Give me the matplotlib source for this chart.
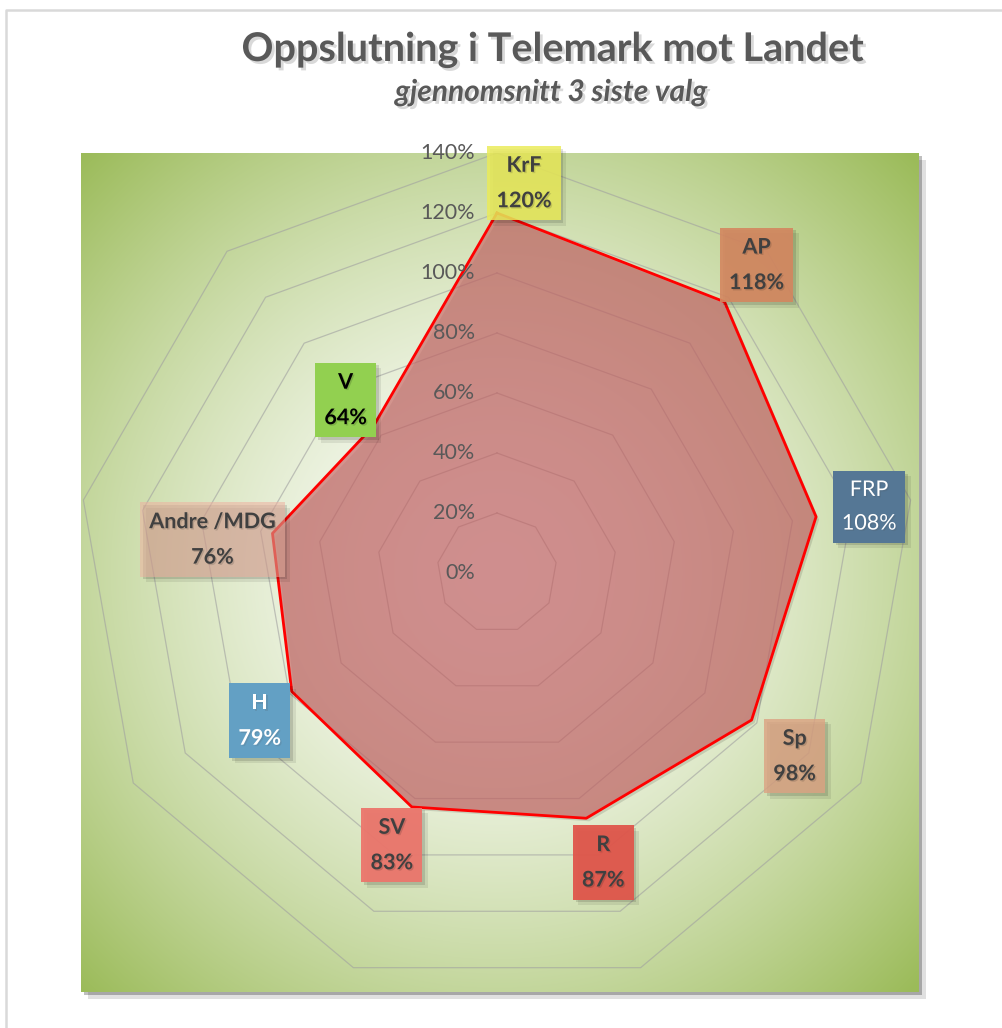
import numpy as np
import matplotlib
matplotlib.use("Agg")
import matplotlib.pyplot as plt
import matplotlib.patheffects as pe
from matplotlib.patches import Polygon
from matplotlib.lines import Line2D
from matplotlib.transforms import offset_copy

plt.rcParams['font.family'] = ['Lato', 'DejaVu Sans']

# data
parties = ["KrF", "AP", "FRP", "Sp", "R", "SV", "H", "Andre /MDG", "V"]
support = [120, 118, 108, 98, 87, 83, 79, 76, 64]
rings = [20, 40, 60, 80, 100, 120, 140]
tick_values = [0, 20, 40, 60, 80, 100, 120, 140]
tick_labels = [f"{v}%" for v in tick_values]

# label box look, one per party
box_colors = ["#eaeb5a", "#d4865f", "#557795", "#dca282", "#e0564b",
              "#ec766c", "#63a0c4", "#eeb0a0", "#92d050"]
box_alpha = [0.85, 0.9, 1.0, 0.8, 0.95, 0.95, 1.0, 0.55, 1.0]
text_colors = ["#404040", "#404040", "white", "#404040", "#404040",
               "#404040", "white", "#404040", "black"]
text_weights = ["bold"] * 9
text_weights[2] = "normal"
# offset of the label box centre from its point, in pixels
label_offsets = [(27, 30), (32, 37), (53, 10), (43, -36), (17, -44),
                 (-20, -38), (-32, -29), (-60, -6), (-28, 26)]

W, H = 1002, 1028
fig = plt.figure(figsize=(W / 100, H / 100), dpi=100)

# plot area in pixels: x 81..919, y 153..992, centre (497, 573), 3 px per %
ax = fig.add_axes([81 / W, 1 - 992 / H, 838 / W, 839 / H])
xmin, xmax = (81 - 497) / 3, (919 - 497) / 3
ymin, ymax = (573 - 992) / 3, (573 - 153) / 3
ax.set_xlim(xmin, xmax)
ax.set_ylim(ymin, ymax)
ax.set_xticks([])
ax.set_yticks([])
for s in ax.spines.values():
    s.set_visible(False)
ax.patch.set_path_effects([pe.SimplePatchShadow(offset=(5, -5), shadow_rgbFace="k", alpha=0.12),
                           pe.SimplePatchShadow(offset=(2, -2), shadow_rgbFace="k", alpha=0.25),
                           pe.Normal()])

# radial green background
gx = np.linspace(xmin, xmax, 400)
gy = np.linspace(ymin, ymax, 400)
X, Y = np.meshgrid(gx, gy)
d = np.sqrt(X ** 2 + Y ** 2) / np.sqrt(xmin ** 2 + ymax ** 2)
t = np.clip(d, 0, 1)[..., None] ** 1.5
green = np.array([155, 187, 89]) / 255
img = (1 - t) * np.ones(3) + t * green
ax.imshow(img, extent=[xmin, xmax, ymin, ymax], origin="lower",
          interpolation="bilinear", aspect="auto", zorder=0)

n = len(parties)
angles = np.pi / 2 - np.arange(n) * 2 * np.pi / n


def ring_xy(vals):
    vals = np.asarray(vals, dtype=float)
    x = vals * np.cos(angles)
    y = vals * np.sin(angles)
    return np.append(x, x[0]), np.append(y, y[0])


for r in rings:
    rx, ry = ring_xy([r] * n)
    ax.plot(rx, ry, color="#a0a0a0", lw=0.9, alpha=0.6, zorder=1)

px, py = ring_xy(support)
shadow_tr = offset_copy(ax.transData, fig=fig, x=3, y=-3, units="dots")
ax.add_patch(Polygon(np.column_stack([px, py]), closed=True, facecolor="k",
                     edgecolor="none", alpha=0.12, transform=shadow_tr, zorder=1.5))
ax.fill(px, py, color=(200 / 255, 104 / 255, 104 / 255), alpha=0.68, zorder=2, lw=0)
ax.plot(px, py, color="#ff0000", lw=2.0, zorder=3)

for v, lab in zip(tick_values, tick_labels):
    ax.text(-7.3, v, lab, ha="right", va="center", fontsize=15.5,
            color="#595959", zorder=4)

for i, (name, val) in enumerate(zip(parties, support)):
    x0 = val * np.cos(angles[i])
    y0 = val * np.sin(angles[i])
    a = ax.annotate(f"{name}\n{val}%", xy=(x0, y0), xytext=label_offsets[i],
                    textcoords="offset pixels", ha="center", va="center",
                    multialignment="center", fontsize=15.5, linespacing=1.85,
                    fontweight=text_weights[i], color=text_colors[i], zorder=6,
                    bbox=dict(boxstyle="square,pad=0.42", facecolor=box_colors[i],
                              edgecolor="none", alpha=box_alpha[i]))
    a.get_bbox_patch().set_path_effects([
        pe.SimplePatchShadow(offset=(4, -4), shadow_rgbFace="k", alpha=0.08),
        pe.SimplePatchShadow(offset=(2, -2), shadow_rgbFace="k", alpha=0.12),
        pe.Normal()])
    a.set_path_effects([pe.SimplePatchShadow(offset=(1, -1), alpha=0.15), pe.Normal()])

shadow = [pe.SimplePatchShadow(offset=(2, -2), shadow_rgbFace="k", alpha=0.15), pe.Normal()]
fig.text(553 / W, 1 - 61 / H, "Oppslutning i Telemark mot Landet", ha="center",
         va="baseline", fontsize=28.5, fontweight="bold", color="#595959",
         path_effects=shadow)
fig.text(551 / W, 1 - 101 / H, "gjennomsnitt 3 siste valg", ha="center",
         va="baseline", fontsize=21.5, fontweight="bold", style="italic",
         color="#595959", path_effects=shadow)

# outer chart border (top and left only visible)
fig.add_artist(Line2D([6 / W, 6 / W, 1.0], [0.0, 1 - 10 / H, 1 - 10 / H],
                      transform=fig.transFigure, color="#d9d9d9", lw=1.8))

fig.savefig("out.png", dpi=100)
